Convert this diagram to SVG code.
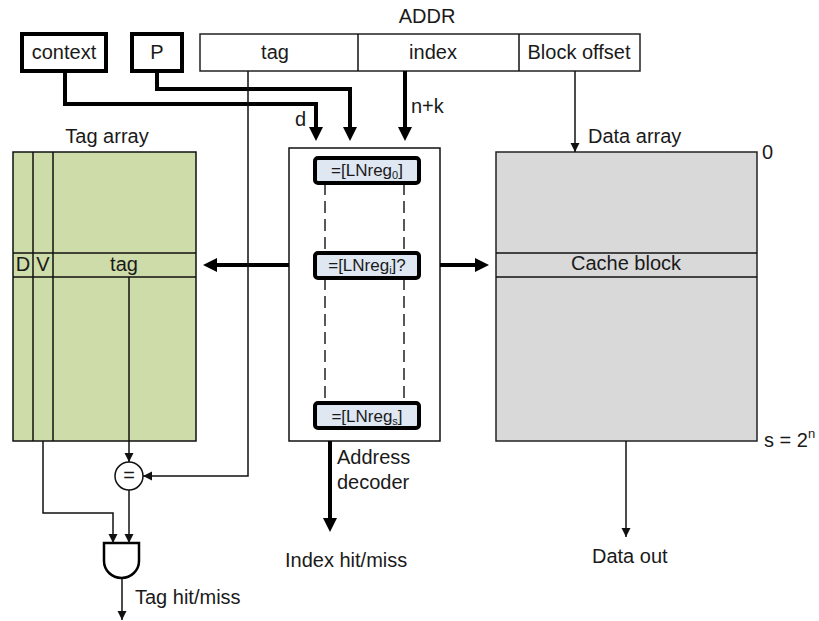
<svg xmlns="http://www.w3.org/2000/svg" width="819" height="621" viewBox="0 0 819 621">
<style>
text{font-family:"Liberation Sans",Arial,sans-serif;font-size:20px;fill:#1a1a1a}
.sm{font-size:17px}
.thin{fill:none;stroke:#111;stroke-width:1.5}
.thick{fill:none;stroke:#000;stroke-width:4}
.box{fill:#fff;stroke:#000;stroke-width:4}
.cell{fill:#fff;stroke:#222;stroke-width:1.5}
.reg{fill:#dfe7f3;stroke:#000;stroke-width:4}
.dash{stroke:#222;stroke-width:1.5;stroke-dasharray:12 6;fill:none}
</style>
<defs>
<marker id="ah" markerUnits="userSpaceOnUse" markerWidth="16" markerHeight="16" refX="10" refY="7" orient="auto">
<path d="M0,0 L14,7 L0,14 Z" fill="#000"/>
</marker>
<marker id="at" markerUnits="userSpaceOnUse" markerWidth="12" markerHeight="12" refX="9" refY="4.5" orient="auto">
<path d="M0,0 L9,4.5 L0,9 Z" fill="#111"/>
</marker>
</defs>

<g id="addr">
<text x="427" y="23" text-anchor="middle">ADDR</text>
<rect class="cell" x="200" y="34" width="440" height="37"/>
<line class="thin" x1="358" y1="34" x2="358" y2="71"/>
<line class="thin" x1="519" y1="34" x2="519" y2="71"/>
<text x="275" y="59" text-anchor="middle">tag</text>
<text x="433" y="59" text-anchor="middle">index</text>
<text x="579" y="59" text-anchor="middle">Block offset</text>
</g>

<g id="context">
<rect class="box" x="22" y="34" width="84" height="37"/>
<text x="64" y="59" text-anchor="middle">context</text>
</g>
<g id="p">
<rect class="box" x="132" y="34" width="50" height="37"/>
<text x="157" y="59" text-anchor="middle">P</text>
</g>

<g id="tag-array">
<text x="107" y="143" text-anchor="middle">Tag array</text>
<rect x="13" y="152" width="183" height="289" fill="#cddca9" stroke="#111" stroke-width="1.5"/>
<line class="thin" x1="33" y1="152" x2="33" y2="441"/>
<line class="thin" x1="53" y1="152" x2="53" y2="441"/>
<line class="thin" x1="13" y1="253" x2="196" y2="253"/>
<line class="thin" x1="13" y1="277" x2="196" y2="277"/>
<text x="23" y="271" text-anchor="middle">D</text>
<text x="43" y="271" text-anchor="middle">V</text>
<text x="124" y="271" text-anchor="middle">tag</text>
</g>

<g id="decoder">
<rect x="289" y="148" width="151" height="293" fill="#fff" stroke="#111" stroke-width="1.5"/>
<line class="dash" x1="325" y1="183" x2="325" y2="253"/>
<line class="dash" x1="404" y1="183" x2="404" y2="253"/>
<line class="dash" x1="325" y1="278" x2="325" y2="403"/>
<line class="dash" x1="404" y1="278" x2="404" y2="403"/>
<rect class="reg" x="315" y="158" width="104" height="25" rx="3"/>
<text class="sm" x="367" y="176" text-anchor="middle">=[LNreg<tspan font-size="11" dy="3">0</tspan><tspan dy="-3">]</tspan></text>
<rect class="reg" x="315" y="253" width="104" height="25" rx="3"/>
<text class="sm" x="367" y="271" text-anchor="middle">=[LNreg<tspan font-size="11" dy="3">i</tspan><tspan dy="-3">]?</tspan></text>
<rect class="reg" x="315" y="403" width="104" height="25" rx="3"/>
<text class="sm" x="367" y="422" text-anchor="middle">=[LNreg<tspan font-size="11" dy="3">s</tspan><tspan dy="-3">]</tspan></text>
<text x="337" y="464">Address</text>
<text x="337" y="489">decoder</text>
</g>

<g id="data-array">
<text x="588" y="143">Data array</text>
<rect x="496" y="152" width="261" height="289" fill="#d9d9d9" stroke="#222" stroke-width="1.5"/>
<line class="thin" x1="496" y1="253" x2="757" y2="253"/>
<line class="thin" x1="496" y1="277" x2="757" y2="277"/>
<text x="626" y="270" text-anchor="middle" fill="#333">Cache block</text>
<text x="762" y="159">0</text>
<text x="764" y="447">s = 2<tspan font-size="13" dy="-9">n</tspan></text>
</g>

<g id="comparator">
<circle cx="129" cy="476" r="14" fill="#fff" stroke="#111" stroke-width="1.5"/>
<text x="129" y="482" text-anchor="middle" font-size="16">=</text>
</g>

<g id="and-gate">
<path d="M104,543 H139 V561 A17.5,17 0 0 1 104,561 Z" fill="#fff" stroke="#000" stroke-width="2.5"/>
</g>

<g id="connectors">
<path class="thick" d="M65,71 V104 H316 V137" marker-end="url(#ah)"/>
<path class="thick" d="M157,71 V89 H350 V137" marker-end="url(#ah)"/>
<path class="thick" d="M405,71 V137" marker-end="url(#ah)"/>
<path class="thick" d="M289,265 H207" marker-end="url(#ah)"/>
<path class="thick" d="M440,265 H485" marker-end="url(#ah)"/>
<path class="thick" d="M330,441 V528" marker-end="url(#ah)"/>
<path class="thin" d="M575,71 V152" marker-end="url(#at)"/>
<path class="thin" d="M248,71 V476 H143" marker-end="url(#at)"/>
<path class="thin" d="M129,277 V462" marker-end="url(#at)"/>
<path class="thin" d="M129,490 V543" marker-end="url(#at)"/>
<path class="thin" d="M43,441 V513 H113 V543" marker-end="url(#at)"/>
<path class="thin" d="M122,578 V620" marker-end="url(#at)"/>
<path class="thin" d="M626,441 V537" marker-end="url(#at)"/>
</g>

<g id="labels">
<text x="411" y="113">n+k</text>
<text x="295" y="126">d</text>
<text x="285" y="567">Index hit/miss</text>
<text x="592" y="563">Data out</text>
<text x="135" y="604">Tag hit/miss</text>
</g>
</svg>
